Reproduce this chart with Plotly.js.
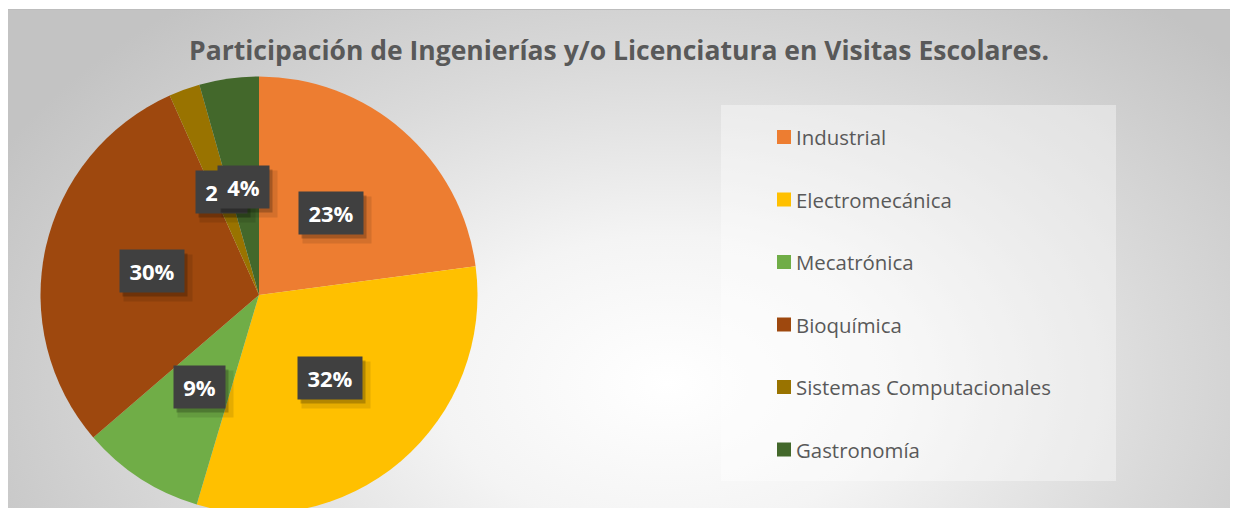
<!DOCTYPE html>
<html>
<head>
<meta charset="utf-8">
<script src="https://cdn.plot.ly/plotly-3.0.1.min.js"></script>
<style>
  html, body { margin: 0; padding: 0; background: #ffffff; width: 1235px; height: 508px; overflow: hidden; }
  #frame {
    position: absolute; left: 8px; top: 9px; width: 1222px; height: 520px;
    border-top: 1px solid #bdbdbd; box-sizing: border-box;
    background: radial-gradient(ellipse 62% 95% at 54% 72%, #ffffff 0%, #f4f4f4 30%, #dadada 65%, #c3c3c3 100%);
  }
  #chart { position: absolute; left: 0; top: 0; width: 1222px; height: 520px; }
</style>
</head>
<body>
<div id="frame"><div id="chart"></div></div>
<script>
// ---- data ----
const labels = ['Industrial', 'Electromecánica', 'Mecatrónica', 'Bioquímica', 'Sistemas Computacionales', 'Gastronomía'];
const values = [22.9, 31.7, 9.1, 29.6, 2.3, 4.4];
const colors = ['#ED7D31', '#FFC000', '#70AD47', '#9E480E', '#997300', '#43682B'];
const chartTitle = 'Participación de Ingenierías y/o Licenciatura en Visitas Escolares.';

// ---- layout geometry ----
const W = 1222, H = 520;
const pieDomain = { x: [32.5 / W, 469.5 / W], y: [1 - 503.5 / H, 1 - 66.5 / H] };
const cx = (pieDomain.x[0] + pieDomain.x[1]) / 2 * W;
const cy = (1 - (pieDomain.y[0] + pieDomain.y[1]) / 2) * H;
const R = Math.min((pieDomain.x[1] - pieDomain.x[0]) * W, (pieDomain.y[1] - pieDomain.y[0]) * H) / 2;

const total = values.reduce((a, b) => a + b, 0);
const annotations = [];
const shapes = [];

// data labels (dark boxes) placed at half radius along each slice's middle angle
let cum = 0;
values.forEach((v, i) => {
  const theta = 2 * Math.PI * (cum + v / 2) / total;
  cum += v;
  const px = cx + 0.5 * R * Math.sin(theta);
  const py = cy - 0.5 * R * Math.cos(theta);
  const txt = Math.round(v / total * 100) + '%';
  const bw = 13 * txt.length + 23;
  const base = {
    xref: 'paper', yref: 'paper', x: px / W, y: 1 - py / H,
    xanchor: 'center', yanchor: 'middle', showarrow: false,
    width: bw, height: 40, text: '\u00a0',
    font: { family: 'Open Sans', size: 22, weight: 700, color: 'rgba(0,0,0,0)' }
  };
  annotations.push(Object.assign({}, base, { bgcolor: 'rgba(0,0,0,0.10)', xshift: 6, yshift: -7, width: bw + 4, height: 44 }));
  annotations.push(Object.assign({}, base, { bgcolor: 'rgba(0,0,0,0.22)', xshift: 3, yshift: -4 }));
  annotations.push(Object.assign({}, base, {
    text: txt, bgcolor: '#404040',
    font: { family: 'Open Sans', size: 22, weight: 700, color: '#ffffff' }
  }));
});

// legend panel
const lg = { x0: 721 - 8, x1: 1116 - 8, y0: 104 - 9, y1: 480 - 9 };
shapes.push({
  type: 'rect', xref: 'paper', yref: 'paper', layer: 'below',
  x0: lg.x0 / W, x1: lg.x1 / W, y0: 1 - lg.y1 / H, y1: 1 - lg.y0 / H,
  fillcolor: 'rgba(255,255,255,0.38)', line: { width: 0 }
});
const rowY0 = 136 - 9, rowGap = 62.5, swX = 777 - 8, sw = 14, txtX = 794 - 8;
labels.forEach((lab, i) => {
  const ry = rowY0 + i * rowGap;
  shapes.push({
    type: 'rect', xref: 'paper', yref: 'paper',
    x0: swX / W, x1: (swX + sw) / W, y0: 1 - (ry + sw / 2) / H, y1: 1 - (ry - sw / 2) / H,
    fillcolor: colors[i], line: { width: 0 }
  });
  annotations.push({
    xref: 'paper', yref: 'paper', x: txtX / W, y: 1 - ry / H,
    xanchor: 'left', yanchor: 'middle', showarrow: false, text: lab,
    font: { family: 'Open Sans', size: 20.4, color: '#595959' }
  });
});

const data = [{
  type: 'pie', labels: labels, values: values, sort: false, direction: 'clockwise', rotation: 0,
  marker: { colors: colors, line: { width: 0 } },
  textinfo: 'none', hoverinfo: 'label+percent', showlegend: false,
  domain: pieDomain
}];

const layout = {
  width: W, height: H,
  margin: { l: 0, r: 0, t: 0, b: 0, pad: 0 },
  paper_bgcolor: 'rgba(0,0,0,0)', plot_bgcolor: 'rgba(0,0,0,0)',
  showlegend: false,
  title: {
    text: chartTitle, x: 0.5, xanchor: 'center', xref: 'paper',
    y: 1 - (50 - 9) / H, yanchor: 'middle', yref: 'container',
    font: { family: 'Open Sans', size: 26.5, weight: 700, color: '#595959' }
  },
  annotations: annotations,
  shapes: shapes
};

Plotly.newPlot('chart', data, layout, { displayModeBar: false, staticPlot: true });
</script>
</body>
</html>
